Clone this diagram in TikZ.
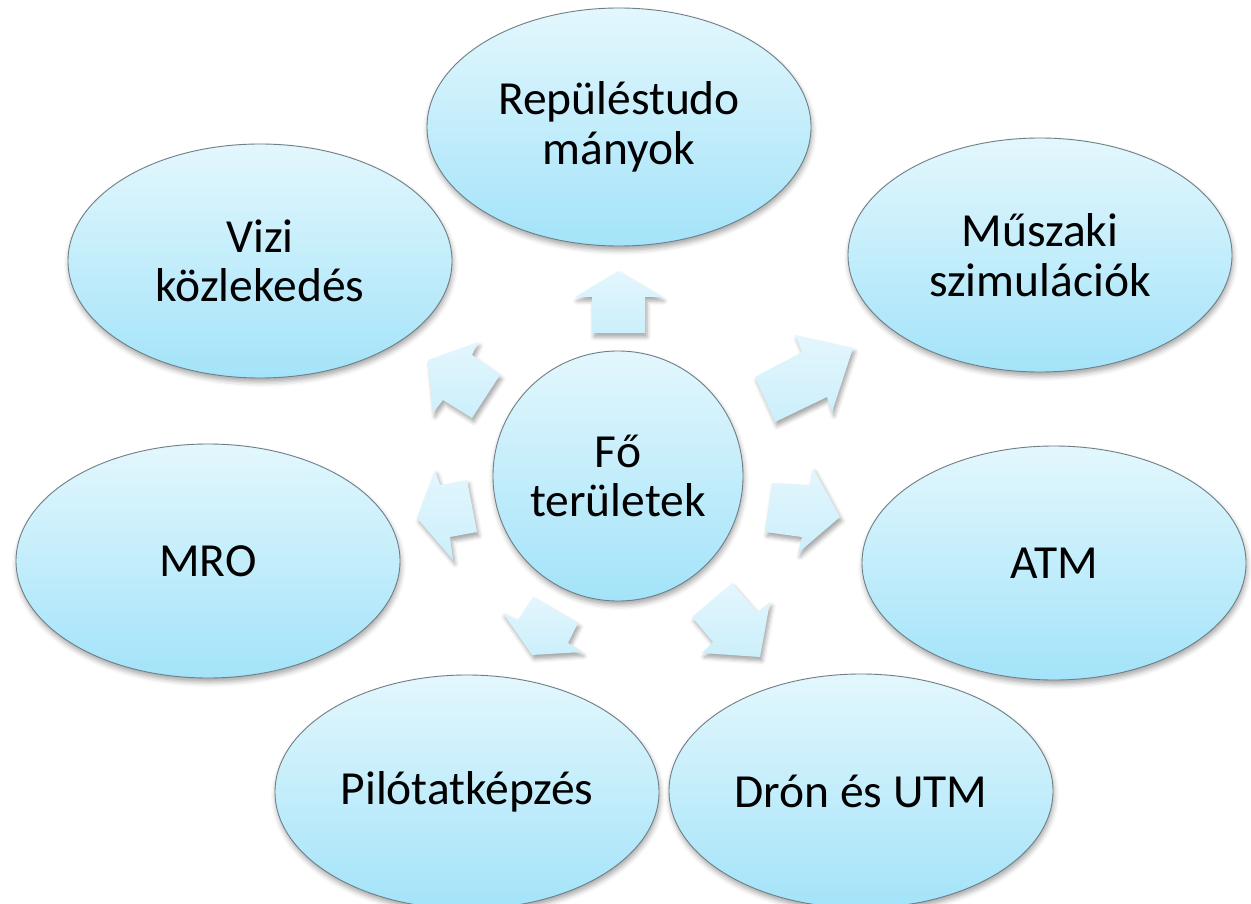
\documentclass[tikz,border=0pt]{standalone}
\usepackage{fontspec}
\setmainfont{Carlito}
\usetikzlibrary{shapes.geometric,shadows.blur}
\definecolor{elltop}{HTML}{E3F7FD}
\definecolor{ellbot}{HTML}{A3E3F9}
\definecolor{arrtop}{HTML}{E4F6FD}
\definecolor{arrbot}{HTML}{CBEFFB}
\definecolor{ellline}{HTML}{6F7F85}
\tikzset{
  bubble/.style={ellipse, draw=ellline, line width=0.9pt, inner sep=0pt,
    top color=elltop, bottom color=ellbot, align=center,
    font=\fontsize{47.5}{49.5}\selectfont,
    blur shadow={shadow xshift=1pt, shadow yshift=-4pt, shadow blur radius=5pt, shadow opacity=35}},
  outer/.style={bubble, minimum width=384pt, minimum height=234pt},
  blockarrow/.style={top color=arrtop, bottom color=arrbot,
    blur shadow={shadow xshift=2pt, shadow yshift=-4pt, shadow blur radius=4pt, shadow opacity=35}}
}
\begin{document}
\begin{tikzpicture}[x=1pt,y=-1pt]
\useasboundingbox (0,0) rectangle (1251,904);
\clip (0,0) rectangle (1251,904);
% block arrows
\path[blockarrow] (592,333) -- (592,297) -- (575,297) -- (618,271) -- (662,297) -- (645,297) -- (645,333) -- cycle;
\path[blockarrow] (755,377) -- (802,352) -- (795,335) -- (853,348) -- (832,412) -- (827,397) -- (775,422) -- cycle;
\path[blockarrow] (772,483) -- (810,485) -- (813,468) -- (840,517) -- (798,553) -- (802,537) -- (765,532) -- cycle;
\path[blockarrow] (732,583) -- (757,612) -- (770,602) -- (760,657) -- (702,653) -- (713,642) -- (692,617) -- cycle;
\path[blockarrow] (533,597) -- (578,623) -- (568,643) -- (582,652) -- (532,655) -- (503,613) -- (518,620) -- cycle;
\path[blockarrow] (467,480) -- (477,532) -- (450,537) -- (453,560) -- (417,518) -- (435,470) -- (440,485) -- cycle;
\path[blockarrow] (500,375) -- (472,418) -- (443,400) -- (433,413) -- (428,360) -- (478,342) -- (472,355) -- cycle;
% bubbles
\node[outer, minimum height=238pt] (rep) at (619,127) {Repüléstudo\\mányok};
\node[outer] (vizi) at (260,261) {Vizi\\közlekedés};
\node[outer] (musz) at (1040,255) {Műszaki\\szimulációk};
\node[outer] (mro) at (208,561) {MRO};
\node[outer] (atm) at (1054,563) {ATM};
\node[outer] (pilot) at (467,792) {Pilótatképzés};
\node[outer] (dron) at (861,791) {Drón és UTM};
\node[bubble, circle, minimum size=250pt] (fo) at (618,476) {Fő\\területek};
\end{tikzpicture}
\end{document}
